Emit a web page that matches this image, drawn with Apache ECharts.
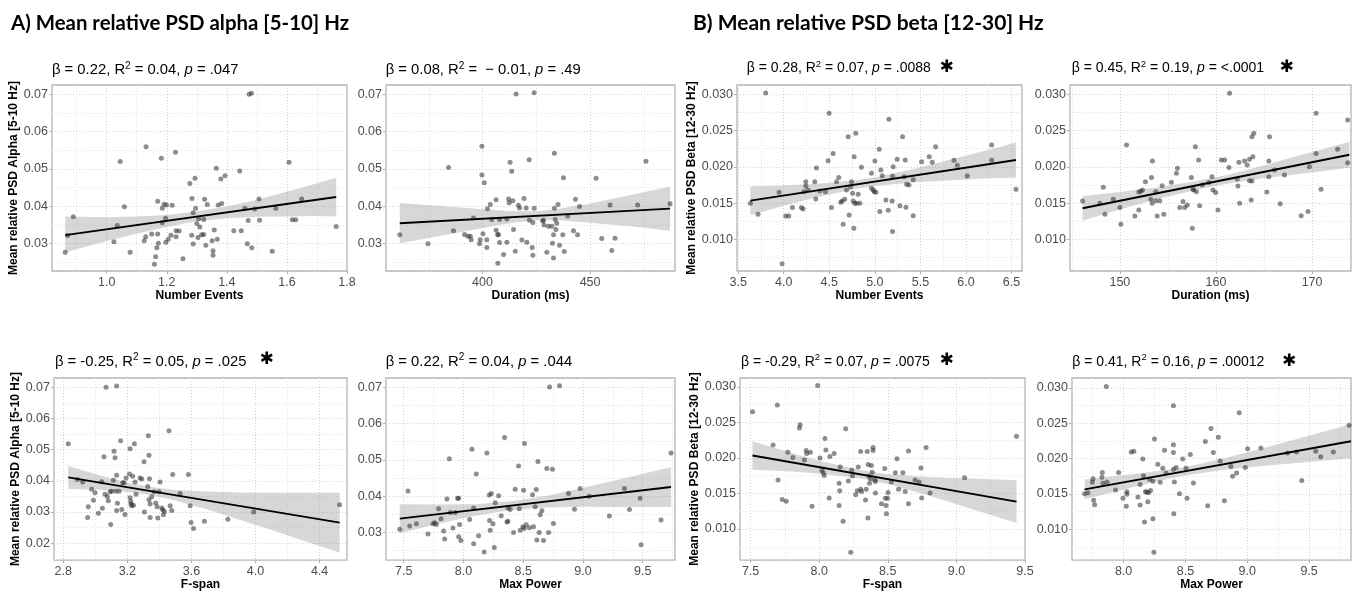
<!DOCTYPE html>
<html><head><meta charset="utf-8">
<script src="https://cdn.jsdelivr.net/npm/echarts@6/dist/echarts.min.js"></script>
<style>html,body{margin:0;padding:0;background:#fff}#c{width:1352px;height:592px}</style>
</head><body><div id="c"></div>
<script>
// ---------- DATA ----------
const A1_POINTS = [[0.862,0.0277],[0.870,0.0322],[0.889,0.0372],[1.024,0.0305],[1.035,0.0349],[1.045,0.0520],[1.059,0.0399],[1.078,0.0277],[1.125,0.0308],[1.130,0.0319],[1.131,0.0560],[1.150,0.0326],[1.159,0.0245],[1.163,0.0265],[1.167,0.0289],[1.170,0.0326],[1.172,0.0301],[1.170,0.0414],[1.182,0.0529],[1.185,0.0395],[1.185,0.0356],[1.191,0.0406],[1.196,0.0368],[1.199,0.0404],[1.197,0.0304],[1.205,0.0312],[1.214,0.0323],[1.218,0.0403],[1.229,0.0545],[1.231,0.0335],[1.231,0.0319],[1.241,0.0334],[1.254,0.0260],[1.277,0.0461],[1.283,0.0323],[1.284,0.0421],[1.288,0.0383],[1.288,0.0299],[1.294,0.0475],[1.296,0.0395],[1.300,0.0354],[1.304,0.0317],[1.306,0.0367],[1.310,0.0345],[1.316,0.0324],[1.323,0.0325],[1.323,0.0365],[1.326,0.0419],[1.330,0.0296],[1.335,0.0405],[1.351,0.0308],[1.354,0.0281],[1.354,0.0269],[1.358,0.0337],[1.365,0.0502],[1.368,0.0312],[1.371,0.0404],[1.380,0.0473],[1.383,0.0408],[1.394,0.0482],[1.423,0.0335],[1.443,0.0495],[1.448,0.0335],[1.460,0.0395],[1.468,0.0300],[1.471,0.0362],[1.474,0.0700],[1.482,0.0703],[1.483,0.0289],[1.493,0.0393],[1.507,0.0420],[1.509,0.0363],[1.551,0.0280],[1.563,0.0395],[1.607,0.0518],[1.618,0.0364],[1.629,0.0364],[1.649,0.0420],[1.764,0.0346]];
const A1_FIT = [[0.862,0.0323],[1.764,0.0425]];
const A1_BAND = [[0.862,0.0277,0.0373],[1.0,0.0307,0.0371],[1.1,0.0327,0.0373],[1.2,0.0345,0.0377],[1.3,0.0360,0.0386],[1.4,0.0368,0.0400],[1.5,0.0372,0.0418],[1.6,0.0373,0.0439],[1.7,0.0374,0.0462],[1.764,0.0373,0.0477]];

const A2_POINTS = [[361.5,0.0324],[374.6,0.0300],[384.2,0.0504],[386.5,0.0335],[391.6,0.0325],[393.2,0.0320],[394.3,0.0320],[394.7,0.0311],[395.8,0.0369],[398.6,0.0300],[398.9,0.0311],[399.7,0.0561],[399.7,0.0484],[400.2,0.0327],[400.8,0.0463],[402.0,0.0290],[402.0,0.0311],[402.3,0.0394],[403.6,0.0405],[404.3,0.0365],[406.3,0.0418],[406.3,0.0336],[407.0,0.0324],[407.1,0.0248],[407.4,0.0325],[407.9,0.0303],[407.9,0.0365],[409.8,0.0271],[411.3,0.0304],[411.3,0.0366],[412.1,0.0420],[412.4,0.0410],[412.8,0.0518],[413.6,0.0494],[414.1,0.0415],[414.4,0.0338],[415.2,0.0280],[415.6,0.0701],[416.7,0.0403],[417.2,0.0396],[418.3,0.0310],[419.3,0.0421],[420.3,0.0396],[420.6,0.0304],[421.7,0.0525],[421.8,0.0363],[423.1,0.0290],[423.4,0.0357],[423.4,0.0269],[424.0,0.0704],[424.0,0.0395],[428.0,0.0361],[428.3,0.0363],[428.6,0.0350],[429.9,0.0277],[430.6,0.0347],[432.2,0.0347],[432.5,0.0301],[433.0,0.0324],[433.0,0.0262],[433.4,0.0542],[433.4,0.0395],[433.8,0.0365],[434.1,0.0338],[434.5,0.0355],[435.1,0.0405],[435.8,0.0296],[437.3,0.0324],[437.6,0.0477],[438.0,0.0279],[439.6,0.0374],[442.3,0.0335],[443.2,0.0419],[444.2,0.0324],[445.1,0.0400],[452.8,0.0475],[455.4,0.0314],[459.3,0.0404],[460.1,0.0282],[461.6,0.0315],[472.1,0.0404],[476.0,0.0521],[487.2,0.0407]];
const A2_FIT = [[361.5,0.0355],[487.2,0.0394]];
const A2_BAND = [[361.5,0.0301,0.0409],[380,0.0321,0.0401],[400,0.0342,0.0392],[415,0.0357,0.0387],[425,0.0363,0.0387],[435,0.0363,0.0393],[450,0.0356,0.0408],[470,0.0346,0.0432],[487.2,0.0335,0.0453]];

const B1_POINTS = [[3.634,0.01497],[3.718,0.01345],[3.802,0.03018],[3.949,0.01648],[3.982,0.00664],[4.022,0.01322],[4.055,0.01322],[4.095,0.01437],[4.194,0.01437],[4.212,0.01418],[4.220,0.01657],[4.242,0.01736],[4.242,0.01795],[4.267,0.01680],[4.341,0.01795],[4.352,0.01556],[4.359,0.01984],[4.396,0.01667],[4.458,0.01657],[4.487,0.02085],[4.498,0.02738],[4.524,0.01437],[4.542,0.02182],[4.579,0.01795],[4.604,0.01851],[4.626,0.01510],[4.641,0.01529],[4.652,0.01207],[4.670,0.01552],[4.689,0.01680],[4.707,0.02416],[4.718,0.01336],[4.733,0.01726],[4.744,0.01795],[4.755,0.01634],[4.762,0.01529],[4.769,0.01152],[4.773,0.02140],[4.780,0.01497],[4.791,0.02462],[4.799,0.01497],[4.817,0.01621],[4.835,0.01497],[4.853,0.01993],[4.963,0.01910],[4.963,0.01703],[4.982,0.01680],[4.993,0.01657],[5.000,0.02080],[5.011,0.01648],[5.048,0.02241],[5.055,0.01382],[5.066,0.01956],[5.081,0.01878],[5.121,0.01543],[5.147,0.01400],[5.154,0.02655],[5.190,0.01529],[5.194,0.01869],[5.201,0.02002],[5.194,0.01106],[5.245,0.02103],[5.275,0.01464],[5.304,0.02416],[5.322,0.01864],[5.333,0.02094],[5.341,0.01441],[5.348,0.01759],[5.374,0.01749],[5.421,0.01823],[5.421,0.01326],[5.513,0.02071],[5.597,0.02140],[5.630,0.02062],[5.667,0.02278],[5.868,0.02090],[5.905,0.02021],[6.015,0.01874],[6.282,0.02301],[6.282,0.02090],[6.549,0.01690]];
const B1_FIT = [[3.634,0.01533],[6.549,0.02094]];
const B1_BAND = [[3.634,0.01333,0.01733],[4.0,0.01463,0.01743],[4.4,0.01590,0.01770],[4.8,0.01697,0.01817],[5.0,0.01736,0.01856],[5.4,0.01783,0.01963],[5.8,0.01810,0.02090],[6.2,0.01837,0.02217],[6.549,0.01854,0.02334]];

const B2_POINTS = [[146.12,0.01529],[147.92,0.01497],[148.27,0.01717],[148.44,0.01345],[149.31,0.01552],[150.00,0.01437],[150.10,0.01207],[150.69,0.02301],[151.56,0.01322],[151.97,0.01653],[152.18,0.01662],[152.35,0.01680],[151.97,0.01405],[152.66,0.01795],[153.22,0.01552],[153.29,0.01851],[153.36,0.01497],[153.39,0.02080],[153.74,0.01657],[153.74,0.01533],[153.88,0.01322],[154.15,0.01533],[154.39,0.01740],[154.57,0.01345],[155.36,0.01786],[155.88,0.01910],[155.99,0.01979],[156.23,0.01437],[156.57,0.01520],[156.75,0.01437],[157.02,0.01474],[157.44,0.01851],[157.54,0.01152],[157.61,0.01690],[157.68,0.01680],[157.85,0.02278],[157.96,0.01657],[158.20,0.02094],[158.30,0.01464],[158.58,0.01749],[159.27,0.01782],[159.58,0.01864],[159.69,0.01680],[159.97,0.01644],[160.21,0.01405],[160.55,0.02094],[160.90,0.02094],[161.35,0.01989],[161.42,0.03014],[162.21,0.01832],[162.28,0.01736],[162.39,0.02062],[162.46,0.01497],[162.98,0.02080],[163.25,0.02025],[163.49,0.02103],[163.49,0.01809],[163.67,0.01543],[163.74,0.01805],[163.74,0.02416],[163.94,0.02462],[163.84,0.02140],[165.29,0.01653],[165.50,0.02080],[165.50,0.01864],[165.57,0.02416],[166.09,0.01956],[166.68,0.01492],[167.13,0.01887],[168.86,0.01326],[169.58,0.01382],[169.72,0.02002],[170.42,0.02738],[170.42,0.02182],[170.93,0.01690],[172.66,0.02241],[173.70,0.02057],[173.70,0.02646]];
const B2_FIT = [[146.12,0.01428],[173.88,0.02166]];
const B2_BAND = [[146.12,0.01258,0.01598],[150,0.01411,0.01651],[154,0.01558,0.01718],[158,0.01684,0.01804],[161,0.01764,0.01884],[164,0.01824,0.01984],[168,0.01890,0.02130],[171,0.01940,0.02240],[173.88,0.01986,0.02346]];

const A3_POINTS = [[2.831,0.0519],[2.888,0.0404],[2.921,0.0396],[2.952,0.0282],[2.956,0.0317],[2.977,0.0373],[2.988,0.0338],[2.998,0.0362],[3.019,0.0296],[3.040,0.0397],[3.044,0.0312],[3.054,0.0477],[3.060,0.0357],[3.067,0.0700],[3.075,0.0350],[3.081,0.0336],[3.092,0.0365],[3.096,0.0260],[3.102,0.0367],[3.113,0.0402],[3.117,0.0495],[3.123,0.0474],[3.127,0.0367],[3.133,0.0704],[3.133,0.0418],[3.133,0.0305],[3.138,0.0328],[3.148,0.0367],[3.158,0.0529],[3.165,0.0308],[3.171,0.0394],[3.179,0.0394],[3.185,0.0292],[3.192,0.0409],[3.213,0.0422],[3.217,0.0503],[3.217,0.0346],[3.221,0.0334],[3.223,0.0326],[3.227,0.0320],[3.233,0.0415],[3.238,0.0322],[3.244,0.0519],[3.248,0.0396],[3.254,0.0357],[3.279,0.0409],[3.290,0.0406],[3.304,0.0461],[3.306,0.0300],[3.327,0.0382],[3.331,0.0545],[3.335,0.0482],[3.335,0.0339],[3.338,0.0407],[3.342,0.0326],[3.342,0.0282],[3.352,0.0349],[3.367,0.0365],[3.377,0.0329],[3.385,0.0317],[3.390,0.0281],[3.398,0.0365],[3.404,0.0396],[3.415,0.0313],[3.421,0.0307],[3.425,0.0291],[3.431,0.0302],[3.460,0.0561],[3.467,0.0320],[3.477,0.0305],[3.483,0.0420],[3.529,0.0359],[3.581,0.0420],[3.592,0.0320],[3.598,0.0266],[3.613,0.0247],[3.681,0.0270],[3.827,0.0277],[3.988,0.0300],[4.525,0.0323]];
const A3_FIT = [[2.831,0.0411],[4.525,0.0266]];
const A3_BAND = [[2.831,0.0374,0.0448],[3.0,0.0372,0.0422],[3.2,0.0364,0.0394],[3.35,0.0354,0.0380],[3.5,0.0337,0.0371],[3.7,0.0308,0.0366],[3.9,0.0275,0.0363],[4.1,0.0242,0.0362],[4.3,0.0208,0.0362],[4.525,0.0170,0.0362]];

const A4_POINTS = [[7.467,0.0309],[7.536,0.0414],[7.550,0.0318],[7.606,0.0324],[7.703,0.0296],[7.745,0.0324],[7.759,0.0327],[7.773,0.0322],[7.792,0.0365],[7.812,0.0338],[7.834,0.0304],[7.843,0.0282],[7.862,0.0392],[7.882,0.0503],[7.890,0.0355],[7.912,0.0312],[7.932,0.0355],[7.951,0.0394],[7.960,0.0394],[7.960,0.0288],[7.968,0.0322],[7.979,0.0278],[8.052,0.0336],[8.071,0.0529],[8.085,0.0367],[8.085,0.0269],[8.107,0.0461],[8.127,0.0291],[8.174,0.0246],[8.196,0.0519],[8.216,0.0403],[8.219,0.0333],[8.224,0.0306],[8.233,0.0407],[8.247,0.0324],[8.258,0.0259],[8.266,0.0382],[8.294,0.0401],[8.316,0.0346],[8.344,0.0561],[8.364,0.0329],[8.372,0.0331],[8.372,0.0367],[8.391,0.0363],[8.419,0.0300],[8.433,0.0419],[8.461,0.0483],[8.467,0.0365],[8.475,0.0306],[8.497,0.0316],[8.503,0.0416],[8.508,0.0311],[8.511,0.0545],[8.525,0.0321],[8.552,0.0313],[8.578,0.0404],[8.586,0.0316],[8.600,0.0371],[8.609,0.0418],[8.614,0.0279],[8.623,0.0495],[8.634,0.0300],[8.642,0.0349],[8.656,0.0360],[8.670,0.0278],[8.698,0.0476],[8.712,0.0300],[8.720,0.0700],[8.745,0.0474],[8.753,0.0325],[8.804,0.0704],[8.879,0.0407],[8.929,0.0364],[8.976,0.0421],[9.052,0.0400],[9.221,0.0345],[9.347,0.0421],[9.389,0.0363],[9.478,0.0394],[9.486,0.0266],[9.653,0.0334],[9.737,0.0519]];
const A4_FIT = [[7.467,0.0338],[9.737,0.0425]];
const A4_BAND = [[7.467,0.0298,0.0378],[7.8,0.0325,0.0377],[8.1,0.0346,0.0378],[8.4,0.0362,0.0386],[8.7,0.0369,0.0401],[9.0,0.0371,0.0423],[9.3,0.0370,0.0446],[9.737,0.0370,0.0480]];

const B3_POINTS = [[7.514,0.02651],[7.664,0.02182],[7.695,0.02743],[7.700,0.01690],[7.731,0.01414],[7.760,0.01391],[7.772,0.02080],[7.808,0.02007],[7.856,0.02421],[7.861,0.02467],[7.892,0.01970],[7.905,0.02103],[7.909,0.02062],[7.936,0.02080],[7.948,0.01322],[7.989,0.03018],[8.006,0.01998],[8.020,0.01823],[8.030,0.01791],[8.037,0.01754],[8.042,0.02274],[8.049,0.02113],[8.073,0.01437],[8.078,0.02021],[8.109,0.02062],[8.145,0.01644],[8.145,0.01331],[8.150,0.01538],[8.153,0.01874],[8.174,0.01110],[8.193,0.02411],[8.213,0.01676],[8.237,0.01828],[8.242,0.01745],[8.230,0.00674],[8.266,0.01483],[8.278,0.01538],[8.285,0.01874],[8.302,0.02090],[8.302,0.01561],[8.309,0.01529],[8.338,0.01409],[8.343,0.01561],[8.350,0.02090],[8.355,0.01156],[8.357,0.01906],[8.362,0.01745],[8.367,0.01644],[8.374,0.01708],[8.381,0.01892],[8.386,0.01800],[8.393,0.02103],[8.393,0.02145],[8.405,0.01690],[8.410,0.01667],[8.410,0.01506],[8.454,0.01354],[8.478,0.01851],[8.482,0.01432],[8.487,0.01331],[8.490,0.01216],[8.499,0.01432],[8.502,0.01515],[8.526,0.01662],[8.555,0.01791],[8.567,0.01989],[8.579,0.01561],[8.610,0.01791],[8.627,0.01529],[8.651,0.02099],[8.651,0.01354],[8.699,0.01690],[8.728,0.01662],[8.742,0.01860],[8.747,0.01437],[8.779,0.02145],[8.808,0.01506],[9.060,0.01722],[9.438,0.02306]];
const B3_FIT = [[7.514,0.02034],[9.438,0.01386]];
const B3_BAND = [[7.514,0.01834,0.02234],[7.8,0.01808,0.02068],[8.0,0.01780,0.01960],[8.3,0.01709,0.01829],[8.5,0.01632,0.01772],[8.8,0.01471,0.01731],[9.1,0.01290,0.01710],[9.438,0.01086,0.01686]];

const B4_POINTS = [[7.685,0.01502],[7.712,0.01516],[7.747,0.01664],[7.753,0.01714],[7.758,0.01410],[7.766,0.01346],[7.825,0.01733],[7.828,0.01802],[7.833,0.01650],[7.860,0.03018],[7.866,0.01668],[7.935,0.01553],[7.960,0.01802],[7.995,0.01438],[8.022,0.01323],[8.027,0.01530],[8.027,0.01493],[8.062,0.02092],[8.083,0.02101],[8.116,0.01456],[8.134,0.01341],[8.134,0.01631],[8.156,0.01991],[8.161,0.01756],[8.169,0.01101],[8.177,0.01530],[8.188,0.01525],[8.196,0.01387],[8.202,0.01516],[8.210,0.01705],[8.218,0.01548],[8.237,0.01677],[8.237,0.01147],[8.250,0.02276],[8.245,0.00673],[8.277,0.01917],[8.296,0.01664],[8.317,0.01862],[8.331,0.02115],[8.344,0.01793],[8.403,0.02747],[8.403,0.02194],[8.403,0.02083],[8.403,0.01848],[8.406,0.01217],[8.411,0.01668],[8.425,0.01871],[8.452,0.01502],[8.478,0.01991],[8.505,0.01862],[8.513,0.01438],[8.540,0.02055],[8.565,0.01654],[8.661,0.02240],[8.680,0.01332],[8.707,0.02424],[8.726,0.02083],[8.766,0.02300],[8.780,0.01963],[8.815,0.01401],[8.868,0.01885],[8.882,0.01747],[8.914,0.01793],[8.935,0.02645],[8.984,0.01871],[9.003,0.02138],[9.110,0.02147],[9.325,0.02078],[9.398,0.02092],[9.441,0.01687],[9.554,0.02101],[9.594,0.02023],[9.696,0.02092],[9.823,0.02470]];
const B4_FIT = [[7.685,0.01562],[9.839,0.02244]];
const B4_BAND = [[7.685,0.01422,0.01702],[8.0,0.01562,0.01762],[8.3,0.01687,0.01827],[8.5,0.01760,0.01880],[8.8,0.01835,0.01995],[9.1,0.01890,0.02130],[9.4,0.01935,0.02275],[9.839,0.02004,0.02484]];

// panel order: A1, A2, B1, B2, A3, A4, B3, B4
const BETA = ['0.22','0.08','0.28','0.45','-0.25','0.22','-0.29','0.41'];
const R2   = ['0.04',' \u2212 0.01','0.07','0.19','0.05','0.04','0.07','0.16'];
const PVAL = ['.047','.49','.0088','<.0001','.025','.044','.0075','.00012'];
const SIGNIFICANT = [false,false,true,true,true,false,true,true];
const X_NAMES = ['Number Events','Duration (ms)','Number Events','Duration (ms)','F-span','Max Power','F-span','Max Power'];
const Y_NAME_ALPHA = 'Mean relative PSD Alpha [5-10 Hz]';
const Y_NAME_BETA = 'Mean relative PSD Beta [12-30 Hz]';
const HEAD_A = 'A) Mean relative PSD alpha [5-10] Hz';
const HEAD_B = 'B) Mean relative PSD beta [12-30] Hz';

const POINTS = [A1_POINTS,A2_POINTS,B1_POINTS,B2_POINTS,A3_POINTS,A4_POINTS,B3_POINTS,B4_POINTS];
const FITS = [A1_FIT,A2_FIT,B1_FIT,B2_FIT,A3_FIT,A4_FIT,B3_FIT,B4_FIT];
const BANDS = [A1_BAND,A2_BAND,B1_BAND,B2_BAND,A3_BAND,A4_BAND,B3_BAND,B4_BAND];

// ---------- LAYOUT / AXIS SETTINGS ----------
const LAYOUT = [
 {g:[52,85,295,186],  x:[0.818,1.8,0.2,1,true],   y:[0.0227,0.0725,0.01,2],  yName:Y_NAME_ALPHA, yGap:30, t:[52,70],      tf:14.8, s:null},
 {g:[386,85,289,186], x:[355.1,489.5,50,0,false], y:[0.0227,0.0725,0.01,2],  yName:'', yGap:0,  t:[385.7,70],    tf:14.8, s:null},
 {g:[737,85,285,186], x:[3.487,6.615,0.5,1,false],y:[0.00563,0.03128,0.005,3], yName:Y_NAME_BETA, yGap:35, t:[746.7,68.3], tf:14, s:[946.7,68]},
 {g:[1070,85,281,186],x:[144.81,174.05,10,0,false],y:[0.00563,0.03128,0.005,3], yName:'', yGap:0, t:[1071.7,68.3], tf:14, s:[1286.7,68]},
 {g:[54,378,293,186], x:[2.742,4.571,0.4,1,false],y:[0.01457,0.0730,0.01,2], yName:Y_NAME_ALPHA, yGap:32, t:[55,361.7], tf:14.8, s:[266.7,360]},
 {g:[386,378,289,186],x:[7.352,9.770,0.5,1,false],y:[0.0224,0.0725,0.01,2], yName:'', yGap:0, t:[385.7,361.7], tf:14.8, s:null},
 {g:[740,378,285,186],x:[7.423,9.5,0.5,1,true],   y:[0.00563,0.03124,0.005,3], yName:Y_NAME_BETA, yGap:38, t:[741,361.7], tf:14, s:[946.7,361]},
 {g:[1072,378,279,186],x:[7.583,9.839,0.5,1,false],y:[0.00562,0.03138,0.005,3], yName:'', yGap:0, t:[1072.3,361.7], tf:14, s:[1289,361.5]}
];

const FONT = '"Liberation Sans", Arial, sans-serif';
const grids = [], xAxes = [], yAxes = [], series = [], graphics = [];

LAYOUT.forEach((L, i) => {
  grids.push({left:L.g[0], top:L.g[1], width:L.g[2], height:L.g[3], show:true,
    borderColor:'#b3b3b3', borderWidth:1.3, backgroundColor:'#ffffff'});
  const common = {
    type:'value', gridIndex:i, scale:true,
    axisLine:{show:false},
    axisTick:{show:true, length:3, lineStyle:{color:'#b3b3b3', width:1}},
    splitLine:{show:true, lineStyle:{color:'#d2d2d2', type:[1,2], width:1}},
    minorTick:{show:false, splitNumber:2},
    minorSplitLine:{show:true, lineStyle:{color:'#e2e2e2', type:[1,2], width:1}}
  };
  xAxes.push(Object.assign({}, common, {
    min:L.x[0], max:L.x[1], minInterval:L.x[2], maxInterval:L.x[2], splitNumber:5,
    axisLabel:{color:'#4d4d4d', fontSize:12.5, fontFamily:FONT, margin:5,
      showMinLabel:false, showMaxLabel:L.x[4],
      formatter:(v)=> v.toFixed(L.x[3])},
    name:X_NAMES[i], nameLocation:'middle', nameGap: i < 4 ? 17 : 18,
    nameTextStyle:{color:'#000', fontWeight:'bold', fontSize:12, fontFamily:FONT}
  }));
  yAxes.push(Object.assign({}, common, {
    min:L.y[0], max:L.y[1], minInterval:L.y[2], maxInterval:L.y[2], splitNumber:5,
    axisLabel:{color:'#4d4d4d', fontSize:12.5, fontFamily:FONT, margin:4,
      showMinLabel:false, showMaxLabel:false,
      formatter:(v)=> v.toFixed(L.y[3])},
    name:L.yName, nameLocation:'middle', nameGap:L.yGap,
    nameTextStyle:{color:'#000', fontWeight:'bold', fontSize:12, fontFamily:FONT}
  }));

  const band = BANDS[i];
  series.push({
    type:'custom', xAxisIndex:i, yAxisIndex:i, data:band, silent:true, z:1, clip:true,
    encode:{x:0, y:[1,2]},
    renderItem:(params, api) => {
      if (params.dataIndex !== 0) return null;
      const pts = [];
      for (let k = 0; k < band.length; k++) pts.push(api.coord([band[k][0], band[k][2]]));
      for (let k = band.length - 1; k >= 0; k--) pts.push(api.coord([band[k][0], band[k][1]]));
      return {type:'polygon', shape:{points:pts}, style:{fill:'rgba(150,150,150,0.38)', stroke:null}};
    }
  });
  series.push({
    type:'scatter', xAxisIndex:i, yAxisIndex:i, data:POINTS[i], symbolSize:5, z:2, silent:true,
    itemStyle:{color:'rgba(45,45,45,0.68)'}
  });
  series.push({
    type:'line', xAxisIndex:i, yAxisIndex:i, data:FITS[i], symbol:'none', z:3, silent:true,
    lineStyle:{color:'#000', width:1.9}
  });

  graphics.push({
    type:'text', x:L.t[0], y:L.t[1], silent:true,
    style:{
      text:`{t|β = ${BETA[i]}, R}{s|2}{t| = ${R2[i]}, }{i|p}{t| = ${PVAL[i]}}`,
      verticalAlign:'middle', align:'left',
      rich:{
        t:{fontSize:L.tf, fontFamily:FONT, fill:'#000', color:'#000', lineHeight:18},
        s:{fontSize:L.tf*0.68, fontFamily:FONT, fill:'#000', color:'#000', lineHeight:10, verticalAlign:'top'},
        i:{fontSize:L.tf, fontFamily:FONT, fontStyle:'italic', fill:'#000', color:'#000', lineHeight:18}
      }
    }
  });
  if (SIGNIFICANT[i] && L.s) {
    graphics.push({type:'text', x:L.s[0], y:L.s[1], silent:true,
      style:{text:'\u2731', fontSize:17, fontFamily:'"DejaVu Sans", sans-serif', fill:'#000', align:'center', verticalAlign:'middle'}});
  }
});

graphics.push({type:'text', x:11, y:23, silent:true,
  style:{text:HEAD_A, fontSize:20.4, fontWeight:'bold', fontFamily:'Lato, "Open Sans", sans-serif', fill:'#000', verticalAlign:'middle'}});
graphics.push({type:'text', x:693, y:23, silent:true,
  style:{text:HEAD_B, fontSize:21, fontWeight:'bold', fontFamily:'Lato, "Open Sans", sans-serif', fill:'#000', verticalAlign:'middle'}});

const chart = echarts.init(document.getElementById('c'), null, {renderer:'canvas'});
chart.setOption({
  animation:false,
  backgroundColor:'#ffffff',
  grid:grids, xAxis:xAxes, yAxis:yAxes, series:series, graphic:graphics
});
</script></body></html>
